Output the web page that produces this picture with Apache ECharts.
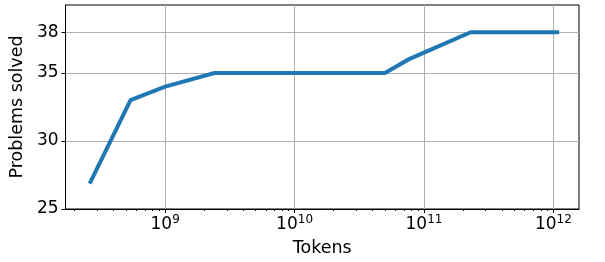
<!DOCTYPE html>
<html>
<head>
<meta charset="utf-8">
<script src="https://cdn.jsdelivr.net/npm/echarts@6/dist/echarts.min.js"></script>
<style>
html, body { margin: 0; padding: 0; background: #fff; }
#chart { width: 605px; height: 262px; }
</style>
</head>
<body>
<div id="chart"></div>
<script>
// values
var tokens = [2.65e8, 5.4e8, 1.0e9, 2.4e9, 5.0e10, 7.6e10, 2.3e11, 1.07e12];
var solved = [27, 33, 34, 35, 35, 36, 38, 38];
var yTicks = [25, 30, 35, 38];
var xMajor = [1e9, 1e10, 1e11, 1e12];
var xMinor = [];
for (var e = 8; e <= 11; e++) {
    for (var m = 2; m <= 9; m++) xMinor.push(m * Math.pow(10, e));
}

var font = 'DejaVu Sans';
var chart = echarts.init(document.getElementById('chart'));

var option = {
    animation: false,
    grid: {
        left: 65, right: 26, top: 5, bottom: 49,
        show: true, borderColor: '#000', borderWidth: 1, backgroundColor: 'transparent'
    },
    xAxis: [{
        type: 'log',
        min: 1.698e8,
        max: 1.578e12,
        name: 'Tokens',
        nameLocation: 'middle',
        nameGap: 30,
        nameTextStyle: { fontFamily: font, fontSize: 17.5, color: '#000' },
        axisLine: { show: true, lineStyle: { color: '#000', width: 1 } },
        axisTick: { show: true, length: 4, customValues: xMajor, lineStyle: { color: '#000' } },
        axisLabel: {
            customValues: xMajor,
            margin: 5,
            formatter: function (v) {
                return '{b|10}{s|' + Math.round(Math.log10(v)) + '}';
            },
            rich: {
                b: { fontFamily: font, fontSize: 17, color: '#000' },
                s: { fontFamily: font, fontSize: 12, color: '#000', padding: [0, 0, 9, 0] }
            }
        },
        splitLine: { show: true, lineStyle: { color: '#b0b0b0', width: 1 } }
    }, {
        type: 'log',
        min: 1.698e8,
        max: 1.578e12,
        position: 'bottom',
        axisLine: { show: false },
        axisTick: { show: true, length: 2, customValues: xMinor, lineStyle: { color: '#000' } },
        axisLabel: { show: false },
        splitLine: { show: false }
    }],
    yAxis: {
        type: 'value',
        min: 25,
        max: 40,
        name: 'Problems solved',
        nameLocation: 'middle',
        nameGap: 35,
        nameTextStyle: { fontFamily: font, fontSize: 17.5, color: '#000' },
        axisLine: { show: true, lineStyle: { color: '#000', width: 1 } },
        axisTick: { show: true, length: 4, customValues: yTicks, lineStyle: { color: '#000' } },
        axisLabel: { customValues: yTicks, margin: 7, fontFamily: font, fontSize: 17, color: '#000' },
        splitLine: { show: true, lineStyle: { color: '#b0b0b0', width: 1 } }
    },
    series: [{
        type: 'line',
        xAxisIndex: 0,
        data: tokens.map(function (t, i) { return [t, solved[i]]; }),
        showSymbol: false,
        lineStyle: { color: '#1f77b4', width: 4, cap: 'square', join: 'miter' }
    }]
};
chart.setOption(option);
</script>
</body>
</html>
